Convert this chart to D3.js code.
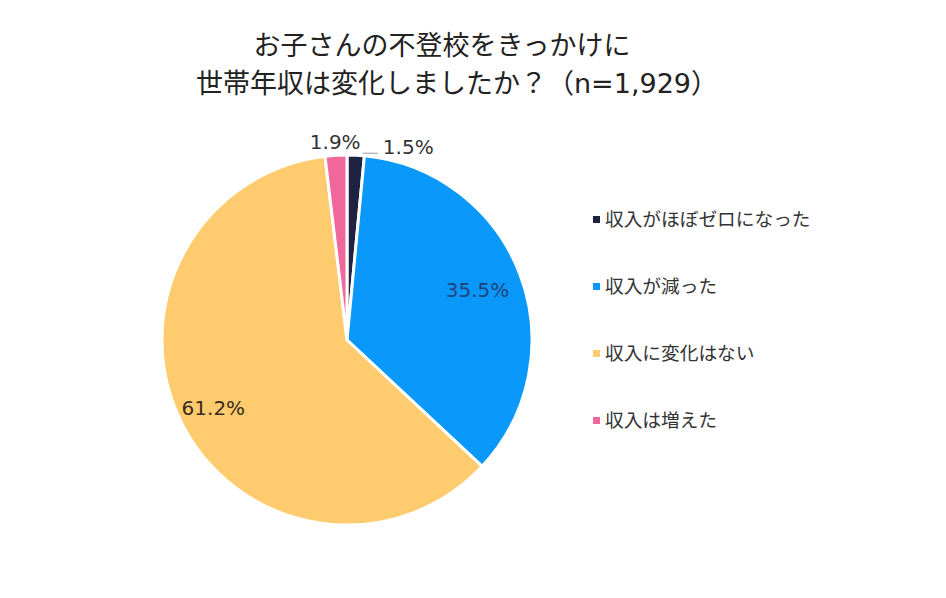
<!DOCTYPE html>
<html><head><meta charset="utf-8">
<script src="https://cdn.jsdelivr.net/npm/d3@7"></script>
<style>body{margin:0;background:#fff}svg{display:block}</style>
</head><body>
<svg id="c" width="946" height="598"></svg>
<script>
const categories = ["収入がほぼゼロになった", "収入が減った", "収入に変化はない", "収入は増えた"];
const values = [1.5, 35.5, 61.2, 1.9];
const labels = ["1.5%", "35.5%", "61.2%", "1.9%"];
const colors = ["#1e2342", "#0a99fb", "#fecb6e", "#f0679c"];
const labelColors = ["#333", "#20447c", "#3a2c1c", "#333"];
const titleLines = ["お子さんの不登校をきっかけに", "世帯年収は変化しましたか？（n=1,929）"];

const svg = d3.select("#c");
const W = 946, H = 598;
const cx = 347, cy = 340, R = 185;
const font = "'Noto Sans CJK JP', 'Noto Sans', sans-serif";
const numFont = "'DejaVu Sans', 'Noto Sans CJK JP', sans-serif";

svg.append("rect").attr("width", W).attr("height", H).attr("fill", "#fff");

// title
svg.append("g").selectAll("text").data(titleLines).join("text")
  .attr("x", (d, i) => i === 0 ? 442 : 457)
  .attr("y", (d, i) => 55 + i * 38)
  .attr("text-anchor", "middle")
  .attr("font-family", (d, i) => i === 0 ? font : numFont).attr("font-size", 27).attr("fill", "#222")
  .text(d => d);

const pie = d3.pie().sort(null).value(d => d);
const arcs = pie(values);
const arc = d3.arc().innerRadius(0).outerRadius(R);

const g = svg.append("g").attr("transform", `translate(${cx},${cy})`);
g.selectAll("path").data(arcs).join("path")
  .attr("d", arc)
  .attr("fill", (d, i) => colors[i])
  .attr("stroke", "#fff").attr("stroke-width", 3).attr("stroke-linejoin", "round");

const mid = d => (d.startAngle + d.endAngle) / 2;
const pt = (a, r) => [Math.sin(a) * r, -Math.cos(a) * r];

arcs.forEach((d, i) => {
  const a = mid(d);
  const share = d.value;
  if (share > 10) {
    const rf = i === 1 ? 0.755 : 0.81;
    const [x, y] = pt(a, R * rf);
    g.append("text").attr("x", x).attr("y", y).attr("dy", "0.35em")
      .attr("text-anchor", "middle").attr("font-family", numFont).attr("font-size", 20)
      .attr("fill", labelColors[i]).text(labels[i]);
  } else if (i === 0) {
    const [x, y] = pt(a, R + 3);
    g.append("line").attr("x1", x + 7).attr("x2", x + 22).attr("y1", y + 1).attr("y2", y + 1)
      .attr("stroke", "#999").attr("stroke-width", 1);
    g.append("text").attr("x", x + 27).attr("y", y + 2)
      .attr("font-family", numFont).attr("font-size", 20).attr("fill", labelColors[i]).text(labels[i]);
  } else {
    const [x, y] = pt(a, R + 13);
    g.append("text").attr("x", x).attr("y", y).attr("dy", "0.35em")
      .attr("text-anchor", "middle").attr("font-family", numFont).attr("font-size", 20)
      .attr("fill", labelColors[i]).text(labels[i]);
  }
});

// legend
const lg = svg.append("g").attr("transform", "translate(593,219)");
const rows = lg.selectAll("g").data(categories).join("g")
  .attr("transform", (d, i) => `translate(0,${i * 67})`);
rows.append("rect").attr("x", 0).attr("y", -3).attr("width", 7).attr("height", 7)
  .attr("fill", (d, i) => colors[i]);
rows.append("text").attr("x", 12).attr("y", 0).attr("dy", "0.35em")
  .attr("font-family", font).attr("font-size", 18.7).attr("fill", "#333").text(d => d);
</script>
</body></html>
